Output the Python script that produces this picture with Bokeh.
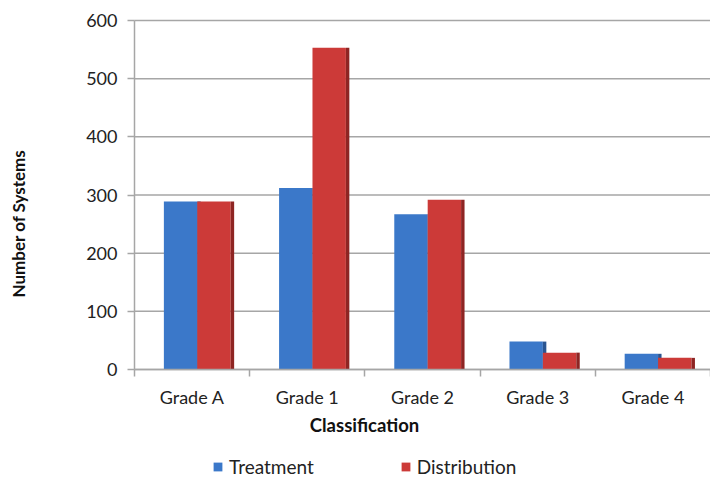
import numpy as np
from bokeh.plotting import figure
from bokeh.models import (Range1d, FixedTicker, Label, Legend, LegendItem,
                          ColumnDataSource)
from bokeh.embed import file_html
from bokeh.resources import INLINE

categories = ["Grade A", "Grade 1", "Grade 2", "Grade 3", "Grade 4"]
treatment = [289, 312, 267, 48, 27]
distribution = [289, 553, 292, 29, 20]
y_ticks = [0, 100, 200, 300, 400, 500, 600]

FONT = "Lato"
BLUE = "#3b78c9"
BLUE_SIDE = "#2a5591"
RED = "#cc3a38"
RED_SIDE = "#8e2523"
GRID = "#a6a6a6"

W, H = 710, 481
LEFT, TOP, BASE = 134, 20, 369   # pixel positions of plot area
n = len(categories)
ymax = y_ticks[-1]
ppx = (W - LEFT) / n
ppy = (BASE - TOP) / ymax

p = figure(width=W, height=H, output_backend="svg", toolbar_location=None,
           x_range=Range1d(-LEFT / ppx, n),
           y_range=Range1d(-(H - BASE) / ppy, ymax + TOP / ppy),
           min_border=0)
p.outline_line_color = None
p.background_fill_color = "white"

centers = np.arange(n) + 0.5
bw = 0.29
side = 0.03

# gridlines across the plot area only
p.segment(x0=[0] * len(y_ticks), x1=[n] * len(y_ticks), y0=y_ticks, y1=y_ticks,
          line_color=GRID, line_width=1.5, level="underlay")

src = ColumnDataSource(dict(
    xb=centers - 0.1, xr=centers + 0.19,
    xbs=centers - 0.1 + bw / 2 + side / 2, xrs=centers + 0.19 + bw / 2 + side / 2,
    t=treatment, d=distribution))

rb = p.vbar(x="xb", top="t", width=bw, source=src, fill_color=BLUE, line_color=None)
p.vbar(x="xbs", top="t", width=side, source=src, fill_color=BLUE_SIDE, line_color=None)
rr = p.vbar(x="xr", top="d", width=bw, source=src, fill_color=RED, line_color=None)
p.vbar(x="xrs", top="d", width=side, source=src, fill_color=RED_SIDE, line_color=None)

p.xgrid.grid_line_color = None
p.ygrid.grid_line_color = None

# axes drawn at data locations inside the frame
p.xaxis.fixed_location = 0
p.xaxis.bounds = (0, n)
p.xaxis.ticker = FixedTicker(ticks=list(centers), minor_ticks=list(range(n + 1)))
p.xaxis.major_label_overrides = {float(c): lab for c, lab in zip(centers, categories)}
p.xaxis.major_tick_line_color = None
p.xaxis.minor_tick_line_color = GRID
p.xaxis.minor_tick_line_width = 1.5
p.xaxis.minor_tick_out = 7
p.xaxis.minor_tick_in = 0
p.xaxis.axis_line_color = GRID
p.xaxis.axis_line_width = 1.5
p.xaxis.major_label_text_font = FONT
p.xaxis.major_label_text_font_size = "18px"
p.xaxis.major_label_text_color = "#222222"
p.xaxis.major_label_standoff = 9

p.yaxis.fixed_location = 0
p.yaxis.bounds = (0, ymax)
p.yaxis.ticker = FixedTicker(ticks=y_ticks, minor_ticks=[])
p.yaxis.major_tick_line_color = GRID
p.yaxis.major_tick_line_width = 1.5
p.yaxis.major_tick_out = 7
p.yaxis.major_tick_in = 0
p.yaxis.axis_line_color = GRID
p.yaxis.axis_line_width = 1.5
p.yaxis.major_label_text_font = FONT
p.yaxis.major_label_text_font_size = "18px"
p.yaxis.major_label_text_color = "#222222"
p.yaxis.major_label_standoff = 10

p.add_layout(Label(x=364, y=H - 424, x_units="screen", y_units="screen",
                   text="Classification", text_font=FONT, text_font_style="bold",
                   text_font_size="18.5px", text_align="center", text_baseline="middle",
                   text_color="#111111"))
p.add_layout(Label(x=18, y=H - 223, x_units="screen", y_units="screen",
                   text="Number of Systems", text_font=FONT, text_font_style="bold",
                   text_font_size="17px", text_align="center", text_baseline="middle",
                   angle=np.pi / 2, text_color="#111111"))

legend = Legend(items=[LegendItem(label="Treatment", renderers=[rb]),
                       LegendItem(label="Distribution", renderers=[rr])],
                orientation="horizontal", location=(212, 3),
                label_text_font=FONT, label_text_font_size="19px",
                label_text_color="#222222", glyph_width=11, glyph_height=11,
                label_standoff=6, spacing=86, border_line_color=None,
                background_fill_alpha=0, padding=0, margin=0)
p.add_layout(legend)

open("out.html", "w").write(file_html(p, INLINE))
